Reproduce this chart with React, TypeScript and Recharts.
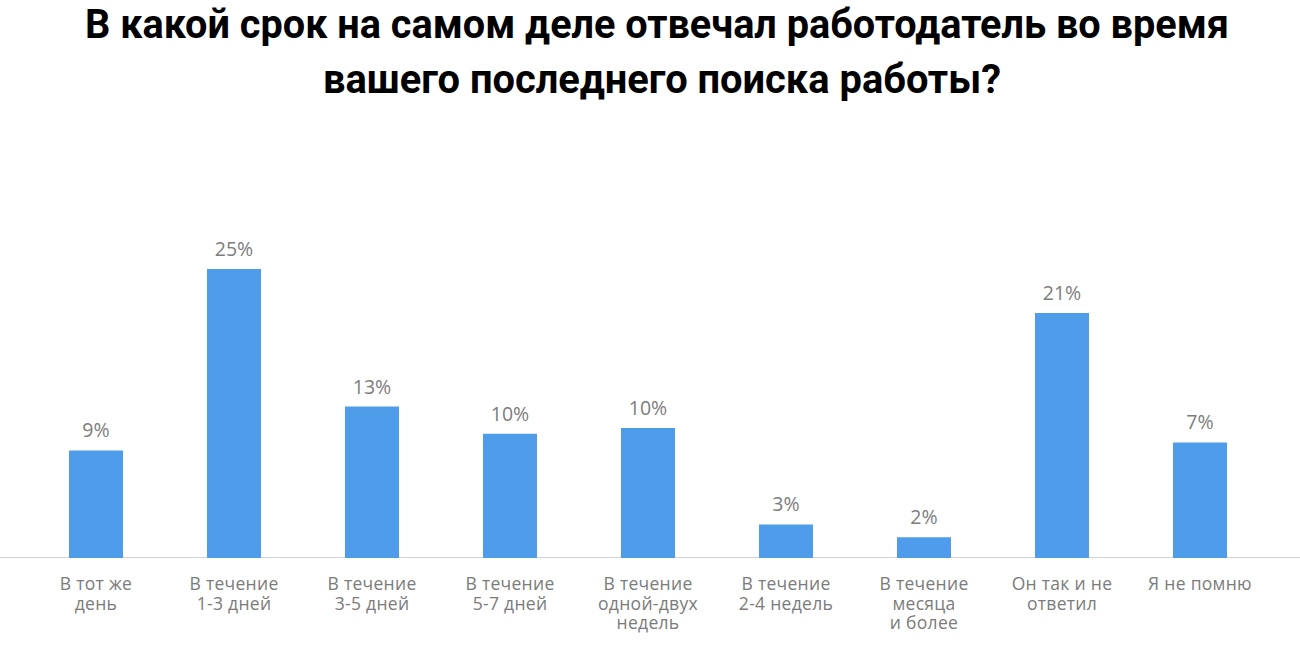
import React from "react";
import { BarChart, Bar, XAxis, YAxis, LabelList } from "recharts";

const categories: string[] = [
  "В тот же\nдень",
  "В течение\n1-3 дней",
  "В течение\n3-5 дней",
  "В течение\n5-7 дней",
  "В течение\nодной-двух\nнедель",
  "В течение\n2-4 недель",
  "В течение\nмесяца\nи более",
  "Он так и не\nответил",
  "Я не помню",
];

// bar heights as drawn in the picture (percent scale)
const values: number[] = [9.3, 25, 13.1, 10.75, 11.25, 2.9, 1.8, 21.2, 10.0];

const valueLabels: string[] = ["9%", "25%", "13%", "10%", "10%", "3%", "2%", "21%", "7%"];

const titleLines: string[] = [
  "В какой срок на самом деле отвечал работодатель во время",
  "вашего последнего поиска работы?",
];

const data = categories.map((c, i) => ({ cat: c, value: values[i], label: valueLabels[i] }));

const CatTick = (props: any) => {
  const { x, y, payload } = props;
  const lines: string[] = String(payload.value).split("\n");
  return (
    <g transform={`translate(${x},${y})`}>
      {lines.map((l, i) => (
        <text
          key={i}
          x={0}
          y={24 + i * 19.5}
          textAnchor="middle"
          fill="#7b7b7b"
          fontSize={17.5}
          letterSpacing={0.3}
          fontFamily="'Open Sans', sans-serif"
        >
          {l}
        </text>
      ))}
    </g>
  );
};

const ValueLabel = (props: any) => {
  const { x, y, width, index } = props;
  return (
    <text
      x={x + width / 2}
      y={y - 13}
      textAnchor="middle"
      fill="#7d7d7d"
      fontSize={19.5}
      fontFamily="'Open Sans', sans-serif"
    >
      {valueLabels[index]}
    </text>
  );
};

export default function App() {
  return (
    <div style={{ position: "absolute", left: 0, top: 0, width: 1300, height: 650, background: "#fff" }}>
      <svg width={1300} height={120} style={{ position: "absolute", left: 0, top: 0 }}>
        <text
          x={85}
          y={37.5}
          textLength={1144}
          lengthAdjust="spacingAndGlyphs"
          fontSize={40}
          fontWeight={700}
          fontFamily="Roboto, sans-serif"
          fill="#000"
        >
          {titleLines[0]}
        </text>
        <text
          x={323}
          y={93}
          textLength={678}
          lengthAdjust="spacingAndGlyphs"
          fontSize={40}
          fontWeight={700}
          fontFamily="Roboto, sans-serif"
          fill="#000"
        >
          {titleLines[1]}
        </text>
      </svg>
      <div
        style={{
          position: "absolute",
          left: 0,
          top: 557,
          width: 1300,
          height: 0,
          borderTop: "1.5px solid #d2d2d2",
        }}
      />
      <div style={{ position: "absolute", left: 0, top: 0 }}>
        <BarChart
          width={1300}
          height={650}
          data={data}
          margin={{ top: 269, right: 31, bottom: 0, left: 27 }}
        >
          <XAxis
            dataKey="cat"
            height={92}
            axisLine={false}
            tickLine={false}
            interval={0}
            tick={<CatTick />}
          />
          <YAxis hide domain={[0, 25]} />
          <Bar dataKey="value" fill="#4F9DEA" barSize={54} isAnimationActive={false}>
            <LabelList dataKey="label" content={<ValueLabel />} />
          </Bar>
        </BarChart>
      </div>
    </div>
  );
}
